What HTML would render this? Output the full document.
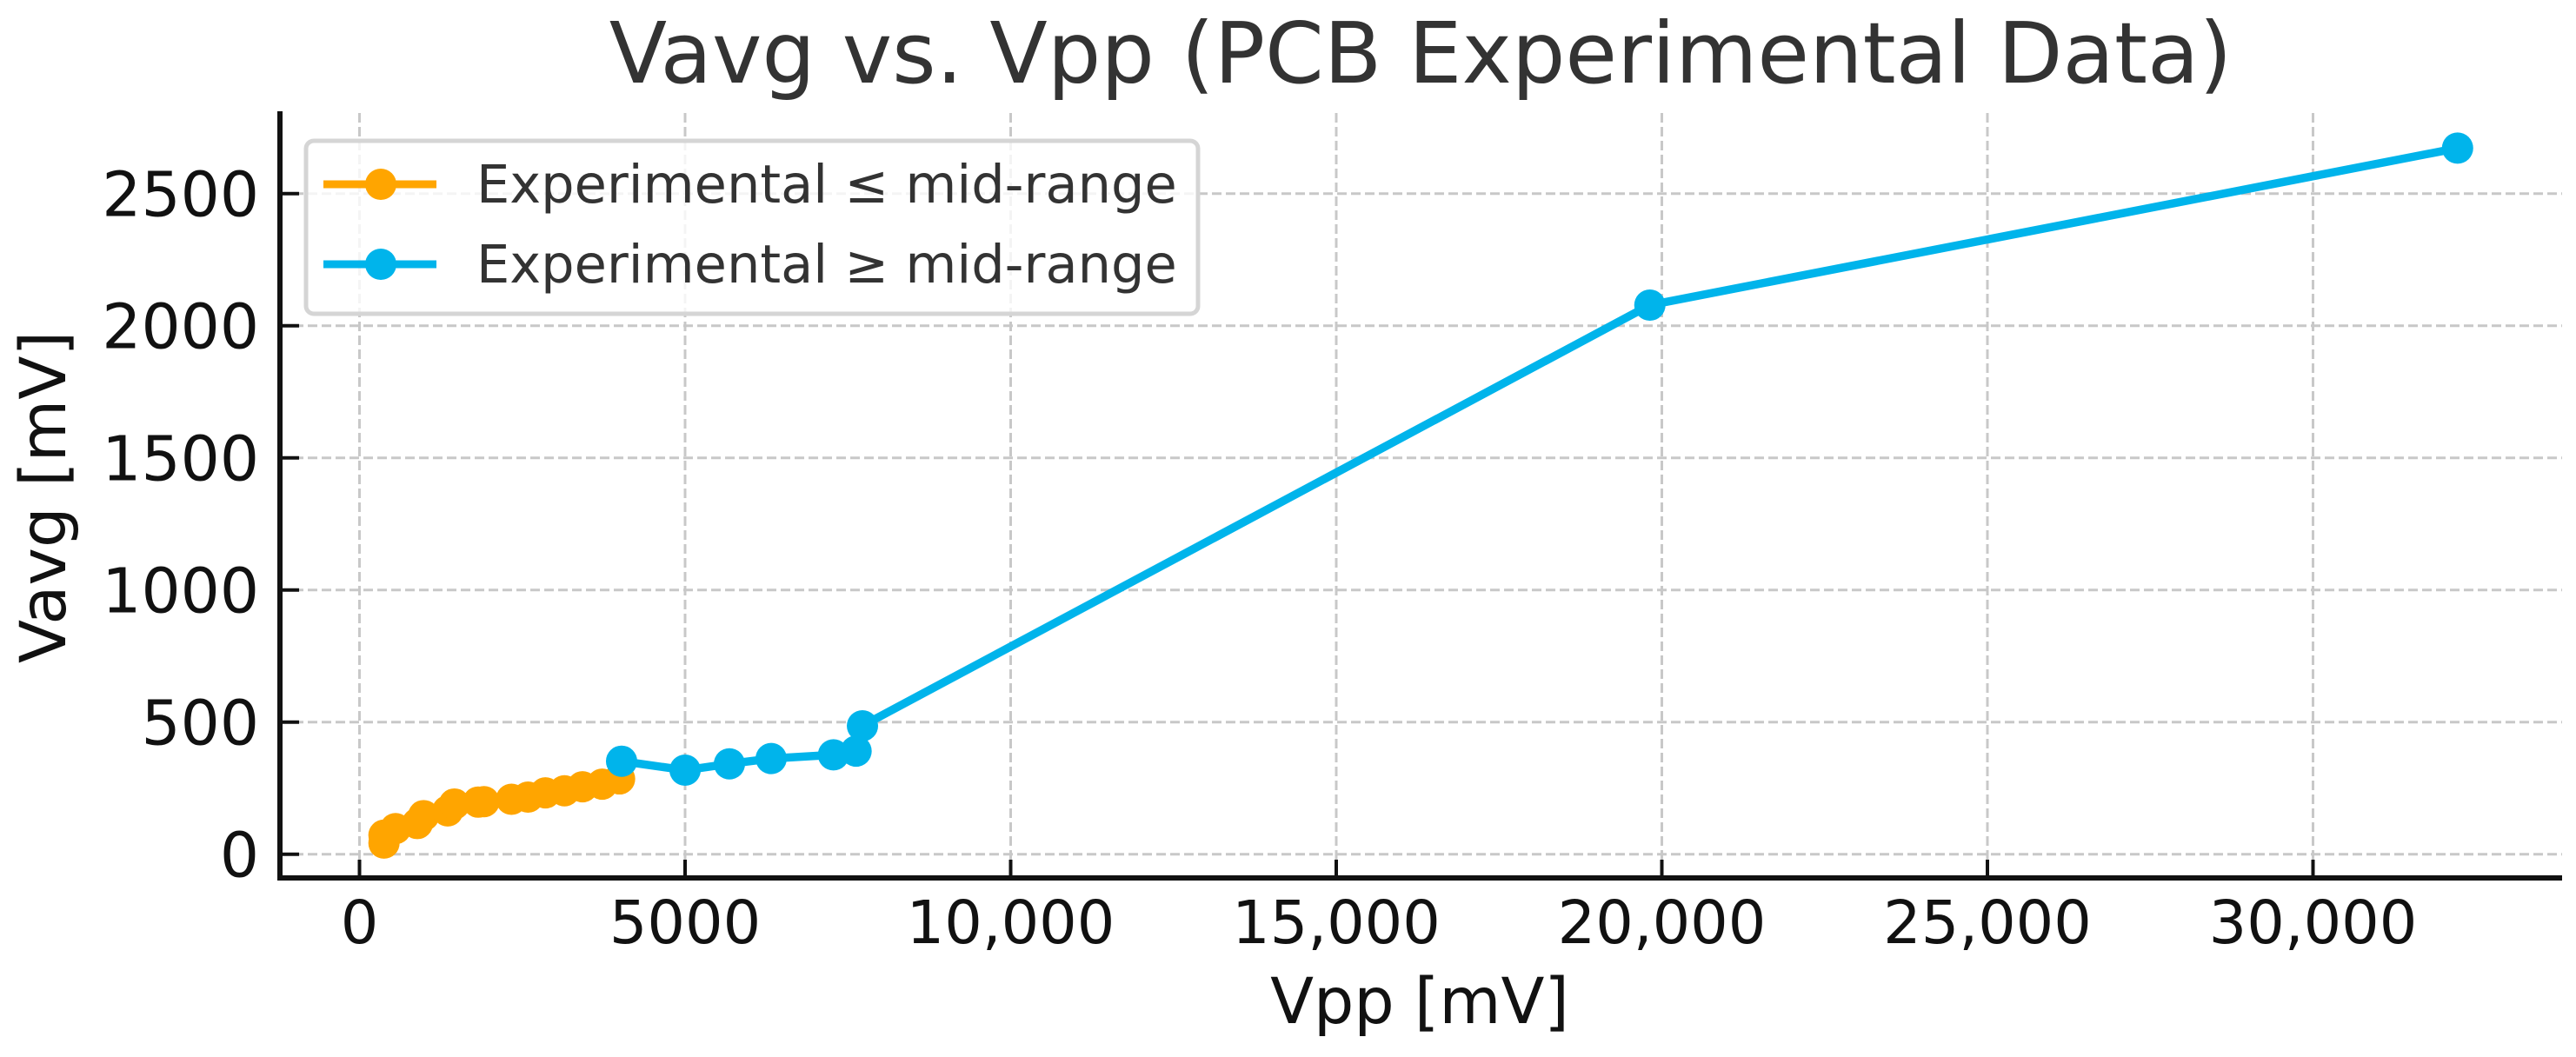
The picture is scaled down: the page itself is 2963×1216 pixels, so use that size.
<!DOCTYPE html>
<html lang="en">
<head>
<meta charset="utf-8">
<title>Vavg vs. Vpp (PCB Experimental Data)</title>
<style>
html,body{margin:0;padding:0;background:#fff;}
svg{display:block;font-family:"DejaVu Sans","Liberation Sans",sans-serif;}
</style>
</head>
<body>
<svg id="chart" xmlns="http://www.w3.org/2000/svg" width="2963" height="1216" viewBox="0 0 2963 1216">
  <rect x="0" y="0" width="2963" height="1216" fill="#ffffff"/>
  <g id="grid"></g>
  <g id="series"></g>
  <g id="ticks"></g>
  <line x1="322" y1="128" x2="322" y2="1013" stroke="#111" stroke-width="6"/>
  <line x1="319" y1="1010" x2="2947" y2="1010" stroke="#111" stroke-width="6"/>
  <text x="1634" y="95" text-anchor="middle" font-size="97" fill="#333333">Vavg vs. Vpp (PCB Experimental Data)</text>
  <text x="1633" y="1177" text-anchor="middle" font-size="73" fill="#111111">Vpp [mV]</text>
  <text transform="translate(75,572) rotate(-90)" text-anchor="middle" font-size="73.5" fill="#111111">Vavg [mV]</text>
  <g>
    <rect x="352" y="162" width="1026" height="199" rx="9" ry="9" fill="#ffffff" fill-opacity="0.8" stroke="#d5d5d5" stroke-width="5"/>
    <g>
      <line x1="372" y1="212" x2="502" y2="212" stroke="#ffa500" stroke-width="9"/>
      <circle cx="438" cy="212" r="18" fill="#ffa500"/>
      <text x="548" y="233" font-size="60.6" fill="#333333">Experimental ≤ mid-range</text>
    </g>
    <g>
      <line x1="372" y1="304" x2="502" y2="304" stroke="#00b4eb" stroke-width="9"/>
      <circle cx="438" cy="304" r="18" fill="#00b4eb"/>
      <text x="548" y="325" font-size="60.6" fill="#333333">Experimental ≥ mid-range</text>
    </g>
  </g>
</svg>
<script>
const xTicks = [0, 5000, 10000, 15000, 20000, 25000, 30000];
const xTickLabels = ["0", "5000", "10,000", "15,000", "20,000", "25,000", "30,000"];
const yTicks = [0, 500, 1000, 1500, 2000, 2500];
const yTickLabels = ["0", "500", "1000", "1500", "2000", "2500"];
const lowVpp = [376, 376, 554, 888, 985, 1355, 1458, 1822, 1912, 2334, 2588, 2855, 3148, 3425, 3727, 3994];
const lowVavg = [42, 72, 97, 116, 146, 164, 190, 197, 199, 208, 216, 232, 240, 255, 265, 285];
const highVpp = [4025, 5000, 5681, 6322, 7279, 7626, 7724, 19816, 32220];
const highVavg = [352, 318, 342, 362, 376, 390, 486, 2078, 2672];

const NS = "http://www.w3.org/2000/svg";
function xScale(v) { return 413.5 + v * 0.0749; }
function yScale(v) { return 982.7 - v * 0.304; }
function make(tag, attrs, parent) {
  const el = document.createElementNS(NS, tag);
  for (const k in attrs) el.setAttribute(k, attrs[k]);
  parent.appendChild(el);
  return el;
}
const gridG = document.getElementById("grid");
const tickG = document.getElementById("ticks");
const seriesG = document.getElementById("series");

xTicks.forEach(function (t, i) {
  const x = xScale(t);
  const g = make("line", {x1: x, y1: 130, x2: x, y2: 1008, stroke: "#c8c8c8", "stroke-width": 3, "stroke-dasharray": "11 5"}, gridG);
  
  
  const m = make("line", {x1: x, y1: 1010, x2: x, y2: 989, stroke: "#111", "stroke-width": 4}, tickG);
  
  
  const l = make("text", {x: x, y: 1085, "text-anchor": "middle", "font-size": 68.5, fill: "#111111"}, tickG);
  l.textContent = xTickLabels[i];
  
  
});
yTicks.forEach(function (t, i) {
  const y = yScale(t);
  const g = make("line", {x1: 322, y1: y, x2: 2947, y2: y, stroke: "#c8c8c8", "stroke-width": 3, "stroke-dasharray": "11 5"}, gridG);
  
  
  const m = make("line", {x1: 322, y1: y, x2: 344, y2: y, stroke: "#111", "stroke-width": 4}, tickG);
  
  
  const l = make("text", {x: 298, y: y + 26, "text-anchor": "end", "font-size": 71, fill: "#111111"}, tickG);
  l.textContent = yTickLabels[i];
  
  
});

function drawSeries(xs, ys, color, prefix) {
  const pts = xs.map(function (v, i) { return xScale(v) + "," + yScale(ys[i]); }).join(" ");
  const line = make("polyline", {points: pts, fill: "none", stroke: color, "stroke-width": 9.5, "stroke-linejoin": "round"}, seriesG);
  
  
  xs.forEach(function (v, i) {
    const c = make("circle", {cx: xScale(v), cy: yScale(ys[i]), r: 18, fill: color}, seriesG);
    
    
  });
}
drawSeries(lowVpp, lowVavg, "#ffa500", "below-mid-range");
drawSeries(highVpp, highVavg, "#00b4eb", "above-mid-range");
</script>
</body>
</html>
